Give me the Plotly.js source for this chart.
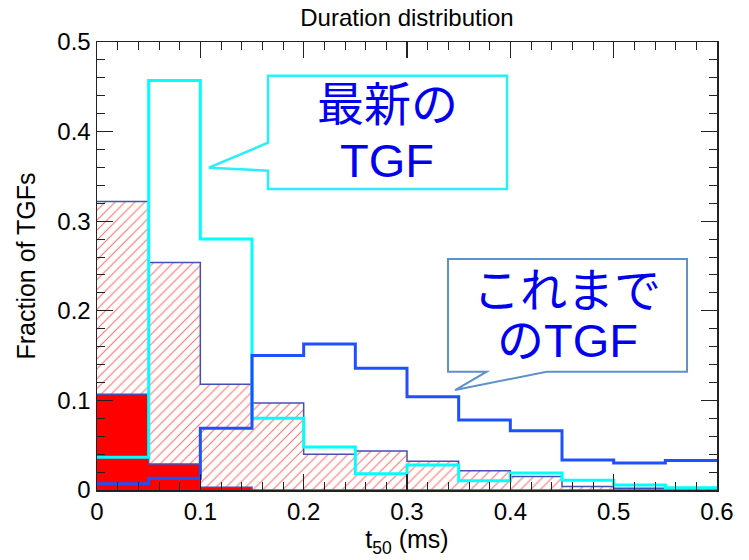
<!DOCTYPE html>
<html>
<head>
<meta charset="utf-8">
<script src="https://cdn.plot.ly/plotly-3.0.1.min.js"></script>
<style>html,body{margin:0;padding:0;background:#fff;}#chart{width:749px;height:560px;}</style>
</head>
<body>
<div id="chart"></div>
<script>
// Bin edges of the t50 histograms (ms)
const binEdges = [0, 0.05, 0.10, 0.15, 0.20, 0.25, 0.30, 0.35, 0.40, 0.45, 0.50, 0.55, 0.60];
// Fractions per bin
const redSolid   = [0.107, 0.029, 0.003, 0, 0, 0, 0, 0, 0, 0, 0, 0];
const redHatched = [0.322, 0.254, 0.118, 0.097, 0.040, 0.0435, 0.032, 0.0216, 0.015, 0.004, 0.002, 0.002];
const latestTGF  = [0.0365, 0.457, 0.280, 0.080, 0.048, 0.018, 0.028, 0.0104, 0.019, 0.011, 0.0056, 0.0026];
const previousTGF= [0.007, 0.013, 0.069, 0.150, 0.163, 0.136, 0.104, 0.078, 0.066, 0.0335, 0.030, 0.033];
const xTicks = [0, 0.1, 0.2, 0.3, 0.4, 0.5, 0.6];
const yTicks = [0, 0.1, 0.2, 0.3, 0.4, 0.5];

function stepY(vals) { return vals.concat([vals[vals.length - 1]]); }

const slate = 'rgb(70,80,180)';
const traces = [
  { type: 'scatter', mode: 'lines', x: binEdges, y: stepY(redHatched),
    line: { shape: 'hv', color: slate, width: 1.5 }, fill: 'tozeroy', fillcolor: 'white',
    fillpattern: { shape: '/', fgcolor: 'rgb(255,110,110)', bgcolor: 'white', size: 7, solidity: 0.15, fgopacity: 1 },
    hoverinfo: 'skip' },
  { type: 'scatter', mode: 'lines', x: binEdges, y: stepY(redSolid),
    line: { shape: 'hv', color: slate, width: 1.5 }, fill: 'tozeroy', fillcolor: 'rgb(255,0,0)',
    hoverinfo: 'skip' },
  { type: 'scatter', mode: 'lines', x: binEdges, y: stepY(latestTGF),
    line: { shape: 'hv', color: 'rgb(0,255,255)', width: 3 } },
  { type: 'scatter', mode: 'lines', x: binEdges, y: stepY(previousTGF),
    line: { shape: 'hv', color: 'rgb(30,80,255)', width: 3 } }
];

const txtFont = { family: 'Liberation Sans, Noto Sans CJK JP, sans-serif', size: 47, color: 'rgb(0,0,240)' };
const axisCommon = {
  showgrid: false, zeroline: false, showline: true, linecolor: '#222', linewidth: 1.5,
  mirror: 'allticks', ticks: 'inside', ticklen: 16, tickwidth: 1.2, tickcolor: '#222',
  tickfont: { family: 'Liberation Sans, Arial, sans-serif', size: 24, color: '#000' },
  fixedrange: true
};

const layout = {
  width: 749, height: 560,
  margin: { l: 97, r: 32, t: 42, b: 70 },
  paper_bgcolor: 'white', plot_bgcolor: 'white',
  showlegend: false,
  title: { text: 'Duration distribution', x: 0.5, xref: 'paper', y: 1 - 18 / 560, yanchor: 'middle',
    font: { family: 'Liberation Sans, Arial, sans-serif', size: 24, color: '#000' } },
  xaxis: Object.assign({}, axisCommon, {
    range: [0, 0.6], tickvals: xTicks, ticktext: xTicks.map(String),
    minor: { dtick: 0.02, ticklen: 8, tickwidth: 1, tickcolor: '#222', ticks: 'inside' },
    title: { text: 't<sub>50</sub> (ms)', standoff: 2,
      font: { family: 'Liberation Sans, Arial, sans-serif', size: 25, color: '#000' } }
  }),
  yaxis: Object.assign({}, axisCommon, {
    range: [0, 0.5], tickvals: yTicks, ticktext: yTicks.map(String),
    minor: { dtick: 0.02, ticklen: 8, tickwidth: 1, tickcolor: '#222', ticks: 'inside' },
    title: { text: 'Fraction of TGFs', standoff: 14,
      font: { family: 'Liberation Sans, Arial, sans-serif', size: 25, color: '#000' } }
  }),
  shapes: [
    { type: 'path', xref: 'x', yref: 'y', layer: 'above',
      path: 'M 0.1655,0.4624 L 0.3968,0.4624 L 0.3968,0.3359 L 0.1655,0.3359 L 0.1655,0.3564 L 0.1084,0.3597 L 0.1655,0.3876 Z',
      fillcolor: 'white', line: { color: 'rgb(40,240,250)', width: 2.5 } },
    { type: 'path', xref: 'x', yref: 'y', layer: 'above',
      path: 'M 0.3397,0.2578 L 0.571,0.2578 L 0.571,0.132 L 0.4351,0.132 L 0.3465,0.1116 L 0.3771,0.132 L 0.3397,0.132 Z',
      fillcolor: 'white', line: { color: 'rgb(95,145,200)', width: 2 } }
  ],
  annotations: [
    { xref: 'x', yref: 'y', x: 0.281, y: 0.4297, text: '最新の', showarrow: false, font: txtFont, xanchor: 'center', yanchor: 'middle' },
    { xref: 'x', yref: 'y', x: 0.281, y: 0.3683, text: 'TGF', showarrow: false, font: txtFont, xanchor: 'center', yanchor: 'middle' },
    { xref: 'x', yref: 'y', x: 0.4549, y: 0.2232, text: 'これまで', showarrow: false, font: txtFont, xanchor: 'center', yanchor: 'middle' },
    { xref: 'x', yref: 'y', x: 0.4549, y: 0.1674, text: 'のTGF', showarrow: false, font: txtFont, xanchor: 'center', yanchor: 'middle' }
  ]
};

Plotly.newPlot('chart', traces, layout, { staticPlot: true, displayModeBar: false });
</script>
</body>
</html>
